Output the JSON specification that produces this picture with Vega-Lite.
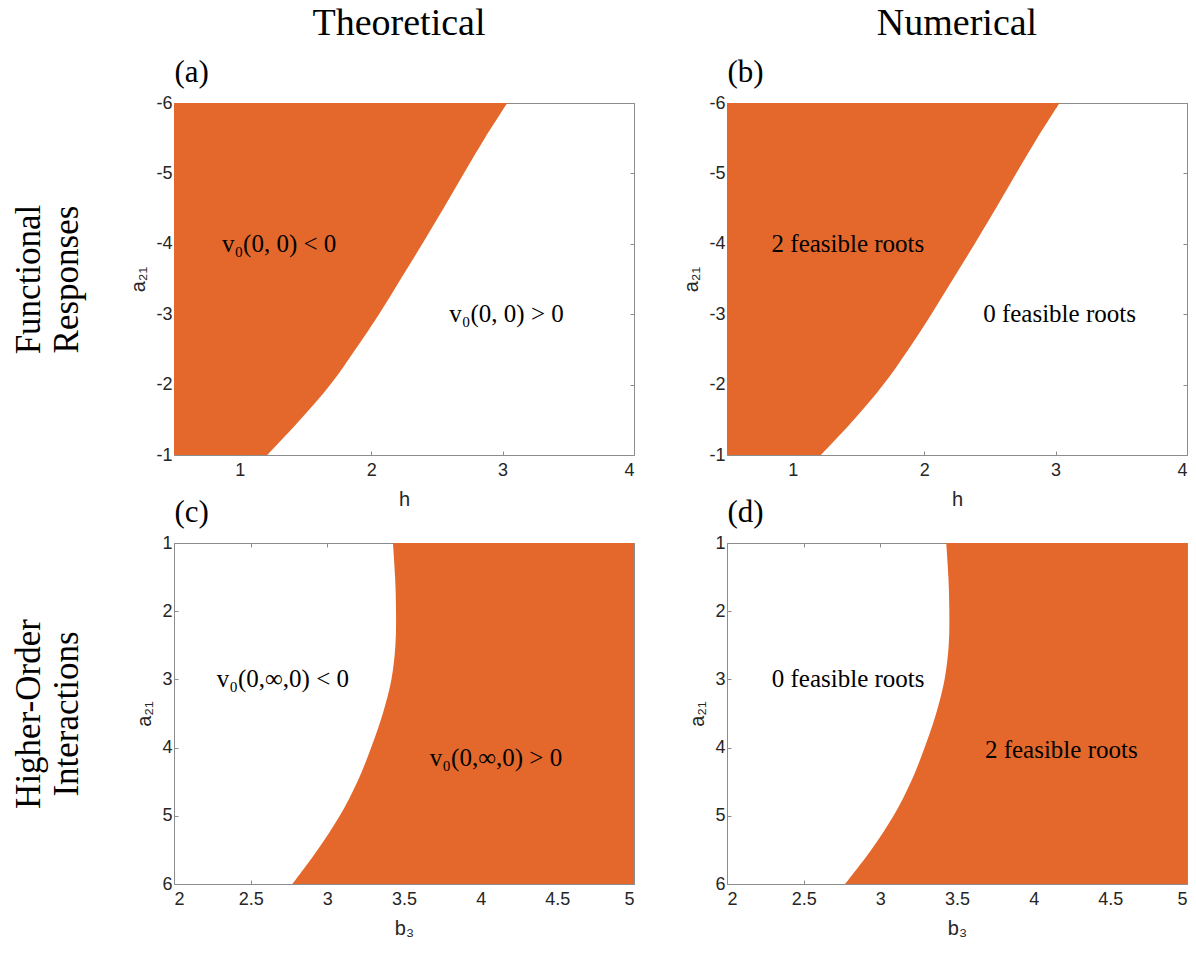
{
  "$schema": "https://vega.github.io/schema/vega-lite/v6.json",
  "background": "white",
  "padding": {"left": 11, "top": 4, "right": 5, "bottom": 5},
  "columns": 2,
  "bounds": "flush",
  "spacing": {"row": 88, "column": 93},
  "config": {
    "view": {"stroke": null},
    "axis": {
      "grid": false,
      "domainColor": "#8c8c8c",
      "tickColor": "#8c8c8c",
      "tickSize": -4,
      "labelColor": "#262626",
      "labelFont": "Liberation Sans",
      "labelFontSize": 18,
      "labelPadding": 10,
      "titleFont": "Liberation Sans",
      "titleFontSize": 20,
      "titleFontWeight": "normal",
      "titleColor": "#262626"
    },
    "title": {"font": "Liberation Serif", "fontSize": 38, "fontWeight": "normal", "color": "black", "anchor": "middle", "frame": "group", "offset": 14}
  },
  "concat": [
    {
      "width": 460, "height": 352,
      "title": {"text": "Theoretical", "dx": -5},
      "layer": [
        {
          "data": {"values": [
            {"a21": -1, "h": 1.21}, {"a21": -1.5, "h": 1.46}, {"a21": -2, "h": 1.69}, {"a21": -2.5, "h": 1.88},
            {"a21": -3, "h": 2.06}, {"a21": -3.5, "h": 2.225}, {"a21": -4, "h": 2.39}, {"a21": -4.5, "h": 2.55},
            {"a21": -5, "h": 2.705}, {"a21": -5.5, "h": 2.865}, {"a21": -6, "h": 3.036}
          ]},
          "mark": {"type": "area", "orient": "horizontal", "interpolate": "catmull-rom", "color": "#E4682C"},
          "encoding": {
            "y": {"field": "a21", "type": "quantitative", "scale": {"domain": [-6, -1], "reverse": true, "nice": false, "zero": false},
                  "axis": {"orient": "left", "values": [-6, -5, -4, -3, -2, -1], "labelExpr": "'' + datum.value", "labelPadding": 6, "title": "a₂₁", "titlePadding": 7}},
            "x": {"field": "h", "type": "quantitative", "scale": {"domain": [0.5, 4], "nice": false, "zero": false},
                  "axis": {"orient": "bottom", "values": [1, 2, 3, 4], "title": "h", "titlePadding": 10}},
            "x2": {"datum": 0.5}
          }
        },
        {
          "data": {"values": [
            {"x": 1.3, "y": -4, "label": "v₀(0, 0) < 0"},
            {"x": 3.03, "y": -3, "label": "v₀(0, 0) > 0"}
          ]},
          "mark": {"type": "text", "font": "Liberation Serif", "fontSize": 25, "color": "black", "baseline": "middle"},
          "encoding": {
            "x": {"field": "x", "type": "quantitative", "axis": {"orient": "top", "values": [1, 2, 3, 4], "labels": false, "title": "(a)", "titleAnchor": "start", "titleAngle": 0, "titleAlign": "left", "titleFont": "Liberation Serif", "titleFontSize": 31, "titleColor": "black", "titlePadding": 14}},
            "y": {"field": "y", "type": "quantitative", "axis": {"orient": "right", "values": [-6, -5, -4, -3, -2, -1], "labels": false, "title": null}},
            "text": {"field": "label"}
          }
        },
        {
          "data": {"values": [{"x": 1, "y": -3}]},
          "mark": {"type": "text", "opacity": 0, "text": " "},
          "encoding": {
            "x": {"field": "x", "type": "quantitative", "axis": null},
            "y": {"field": "y", "type": "quantitative", "axis": {"orient": "left", "labels": false, "ticks": false, "domain": false, "title": ["Functional", "Responses"], "titleFont": "Liberation Serif", "titleFontSize": 35, "titleColor": "black", "titlePadding": 90, "titleLineHeight": 38}}
          }
        }
      ],
      "resolve": {"axis": {"x": "independent", "y": "independent"}}
    },
    {
      "width": 460, "height": 352,
      "title": {"text": "Numerical"},
      "layer": [
        {
          "data": {"values": [
            {"a21": -1, "h": 1.215}, {"a21": -1.5, "h": 1.465}, {"a21": -2, "h": 1.69}, {"a21": -2.5, "h": 1.88},
            {"a21": -3, "h": 2.055}, {"a21": -3.5, "h": 2.22}, {"a21": -4, "h": 2.385}, {"a21": -4.5, "h": 2.545},
            {"a21": -5, "h": 2.7}, {"a21": -5.5, "h": 2.86}, {"a21": -6, "h": 3.03}
          ]},
          "mark": {"type": "area", "orient": "horizontal", "interpolate": "catmull-rom", "color": "#E4682C"},
          "encoding": {
            "y": {"field": "a21", "type": "quantitative", "scale": {"domain": [-6, -1], "reverse": true, "nice": false, "zero": false},
                  "axis": {"orient": "left", "values": [-6, -5, -4, -3, -2, -1], "labelExpr": "'' + datum.value", "labelPadding": 6, "title": "a₂₁", "titlePadding": 7}},
            "x": {"field": "h", "type": "quantitative", "scale": {"domain": [0.5, 4], "nice": false, "zero": false},
                  "axis": {"orient": "bottom", "values": [1, 2, 3, 4], "title": "h", "titlePadding": 10}},
            "x2": {"datum": 0.5}
          }
        },
        {
          "data": {"values": [
            {"x": 1.42, "y": -4, "label": "2 feasible roots"},
            {"x": 3.03, "y": -3, "label": "0 feasible roots"}
          ]},
          "mark": {"type": "text", "font": "Liberation Serif", "fontSize": 25, "color": "black", "baseline": "middle"},
          "encoding": {
            "x": {"field": "x", "type": "quantitative", "axis": {"orient": "top", "values": [1, 2, 3, 4], "labels": false, "title": "(b)", "titleAnchor": "start", "titleAngle": 0, "titleAlign": "left", "titleFont": "Liberation Serif", "titleFontSize": 31, "titleColor": "black", "titlePadding": 14}},
            "y": {"field": "y", "type": "quantitative", "axis": {"orient": "right", "values": [-6, -5, -4, -3, -2, -1], "labels": false, "title": null}},
            "text": {"field": "label"}
          }
        }
      ],
      "resolve": {"axis": {"x": "independent", "y": "independent"}}
    },
    {
      "width": 460, "height": 341,
      "layer": [
        {
          "data": {"values": [
            {"a21": 1, "b3": 3.428}, {"a21": 1.5, "b3": 3.442}, {"a21": 2, "b3": 3.448}, {"a21": 2.5, "b3": 3.444},
            {"a21": 3, "b3": 3.418}, {"a21": 3.5, "b3": 3.362}, {"a21": 4, "b3": 3.286}, {"a21": 4.5, "b3": 3.196},
            {"a21": 5, "b3": 3.081}, {"a21": 5.5, "b3": 2.936}, {"a21": 6, "b3": 2.772}
          ]},
          "mark": {"type": "area", "orient": "horizontal", "interpolate": "catmull-rom", "color": "#E4682C"},
          "encoding": {
            "y": {"field": "a21", "type": "quantitative", "scale": {"domain": [1, 6], "reverse": true, "nice": false, "zero": false},
                  "axis": {"orient": "left", "values": [1, 2, 3, 4, 5, 6], "labelPadding": 6, "title": "a₂₁", "titlePadding": 7}},
            "x": {"field": "b3", "type": "quantitative", "scale": {"domain": [2, 5], "nice": false, "zero": false},
                  "axis": {"orient": "bottom", "values": [2, 2.5, 3, 3.5, 4, 4.5, 5], "format": "~g", "title": "b₃", "titlePadding": 10}},
            "x2": {"datum": 5}
          }
        },
        {
          "data": {"values": [
            {"x": 2.71, "y": 3, "label": "v₀(0,∞,0) < 0"},
            {"x": 4.1, "y": 4.15, "label": "v₀(0,∞,0) > 0"}
          ]},
          "mark": {"type": "text", "font": "Liberation Serif", "fontSize": 25, "color": "black", "baseline": "middle"},
          "encoding": {
            "x": {"field": "x", "type": "quantitative", "axis": {"orient": "top", "values": [2, 2.5, 3, 3.5, 4, 4.5, 5], "labels": false, "title": "(c)", "titleAnchor": "start", "titleAngle": 0, "titleAlign": "left", "titleFont": "Liberation Serif", "titleFontSize": 31, "titleColor": "black", "titlePadding": 14}},
            "y": {"field": "y", "type": "quantitative", "axis": {"orient": "right", "values": [1, 2, 3, 4, 5, 6], "labels": false, "title": null}},
            "text": {"field": "label"}
          }
        },
        {
          "data": {"values": [{"x": 3, "y": 3}]},
          "mark": {"type": "text", "opacity": 0, "text": " "},
          "encoding": {
            "x": {"field": "x", "type": "quantitative", "axis": null},
            "y": {"field": "y", "type": "quantitative", "axis": {"orient": "left", "labels": false, "ticks": false, "domain": false, "title": ["Higher-Order", "Interactions"], "titleFont": "Liberation Serif", "titleFontSize": 35, "titleColor": "black", "titlePadding": 90, "titleLineHeight": 38}}
          }
        }
      ],
      "resolve": {"axis": {"x": "independent", "y": "independent"}}
    },
    {
      "width": 460, "height": 341,
      "layer": [
        {
          "data": {"values": [
            {"a21": 1, "b3": 3.43}, {"a21": 1.5, "b3": 3.444}, {"a21": 2, "b3": 3.45}, {"a21": 2.5, "b3": 3.446},
            {"a21": 3, "b3": 3.419}, {"a21": 3.5, "b3": 3.364}, {"a21": 4, "b3": 3.289}, {"a21": 4.5, "b3": 3.2},
            {"a21": 5, "b3": 3.086}, {"a21": 5.5, "b3": 2.94}, {"a21": 6, "b3": 2.77}
          ]},
          "mark": {"type": "area", "orient": "horizontal", "interpolate": "catmull-rom", "color": "#E4682C"},
          "encoding": {
            "y": {"field": "a21", "type": "quantitative", "scale": {"domain": [1, 6], "reverse": true, "nice": false, "zero": false},
                  "axis": {"orient": "left", "values": [1, 2, 3, 4, 5, 6], "labelPadding": 6, "title": "a₂₁", "titlePadding": 7}},
            "x": {"field": "b3", "type": "quantitative", "scale": {"domain": [2, 5], "nice": false, "zero": false},
                  "axis": {"orient": "bottom", "values": [2, 2.5, 3, 3.5, 4, 4.5, 5], "format": "~g", "title": "b₃", "titlePadding": 10}},
            "x2": {"datum": 5}
          }
        },
        {
          "data": {"values": [
            {"x": 2.79, "y": 3, "label": "0 feasible roots"},
            {"x": 4.18, "y": 4.04, "label": "2 feasible roots"}
          ]},
          "mark": {"type": "text", "font": "Liberation Serif", "fontSize": 25, "color": "black", "baseline": "middle"},
          "encoding": {
            "x": {"field": "x", "type": "quantitative", "axis": {"orient": "top", "values": [2, 2.5, 3, 3.5, 4, 4.5, 5], "labels": false, "title": "(d)", "titleAnchor": "start", "titleAngle": 0, "titleAlign": "left", "titleFont": "Liberation Serif", "titleFontSize": 31, "titleColor": "black", "titlePadding": 14}},
            "y": {"field": "y", "type": "quantitative", "axis": {"orient": "right", "values": [1, 2, 3, 4, 5, 6], "labels": false, "title": null}},
            "text": {"field": "label"}
          }
        }
      ],
      "resolve": {"axis": {"x": "independent", "y": "independent"}}
    }
  ]
}
